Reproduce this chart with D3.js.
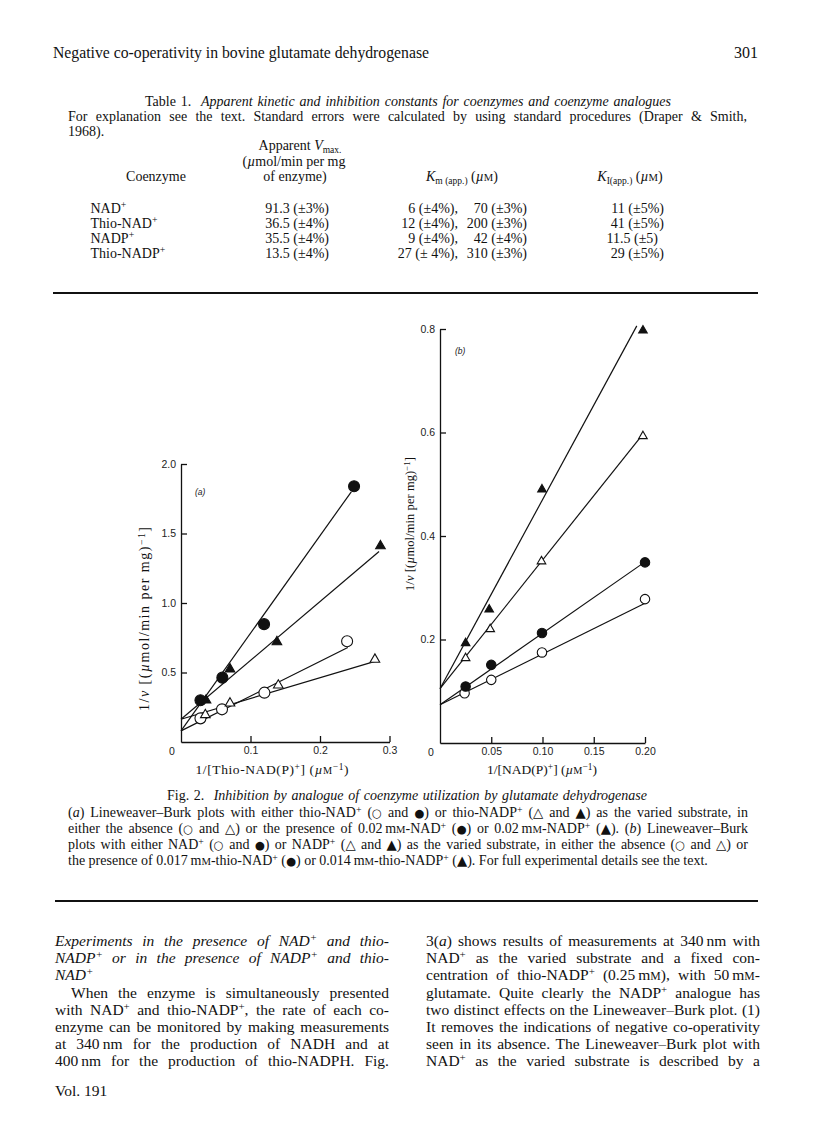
<!DOCTYPE html>
<html>
<head>
<meta charset="utf-8" />
<title>Fig. 2 - Inhibition by analogue of coenzyme utilization</title>
<style>
  body { margin: 0; background: #fff; }
  svg text { white-space: pre; }
</style>
</head>
<body>
<script src="https://cdn.jsdelivr.net/npm/d3@7"></script>
<script>
// ---------------- data: panel (a), x = 1/[Thio-NAD(P)+], y = 1/v ----------------
const aXTicks = [0.1, 0.2, 0.3];
const aYTicks = [0.5, 1.0, 1.5, 2.0];

const aOpenCircleX = [0.028, 0.059, 0.12, 0.239];
const aOpenCircleY = [0.17, 0.235, 0.355, 0.725];
const aFilledCircleX = [0.028, 0.0595, 0.1195, 0.249];
const aFilledCircleY = [0.30, 0.463, 0.848, 1.84];
const aOpenTriX = [0.035, 0.0705, 0.14, 0.279];
const aOpenTriY = [0.195, 0.279, 0.408, 0.594];
const aFilledTriX = [0.036, 0.0705, 0.138, 0.287];
const aFilledTriY = [0.30, 0.524, 0.72, 1.41];

// fitted lines [x0, y0, x1, y1]
const aOpenCircleLine = [0, 0.08, 0.24, 0.68];
const aFilledCircleLine = [0, 0.08, 0.245, 1.80];
const aOpenTriLine = [0, 0.164, 0.279, 0.58];
const aFilledTriLine = [0, 0.164, 0.285, 1.37];

// ---------------- data: panel (b), x = 1/[NAD(P)+], y = 1/v ----------------
const bXTicks = [0.05, 0.10, 0.15, 0.20];
const bYTicks = [0.2, 0.4, 0.6, 0.8];

const bFilledTriX = [0.025, 0.048, 0.0995, 0.198];
const bFilledTriY = [0.193, 0.258, 0.49, 0.797];
const bOpenTriX = [0.025, 0.049, 0.099, 0.198];
const bOpenTriY = [0.164, 0.22, 0.351, 0.593];
const bFilledCircleX = [0.025, 0.05, 0.0995, 0.2];
const bFilledCircleY = [0.109, 0.151, 0.2125, 0.349];
const bOpenCircleX = [0.024, 0.05, 0.0995, 0.2];
const bOpenCircleY = [0.096, 0.122, 0.175, 0.278];

const bFilledTriLine = [0, 0.105, 0.192, 0.806];
const bOpenTriLine = [0, 0.105, 0.198, 0.597];
const bFilledCircleLine = [0, 0.074, 0.2, 0.35];
const bOpenCircleLine = [0, 0.074, 0.2, 0.27];

// ---------------- table 1 ----------------
const tableNames = ["NAD^{+}", "Thio-NAD^{+}", "NADP^{+}", "Thio-NADP^{+}"];
const tableVmax = ["91.3 (±3%)", "36.5 (±4%)", "35.5 (±4%)", "13.5 (±4%)"];
const tableKm1 = ["6 (±4%),", "12 (±4%),", "9 (±4%),", "27 (± 4%),"];
const tableKm2 = ["70 (±3%)", "200 (±3%)", "42 (±4%)", "310 (±3%)"];
const tableKi = ["11 (±5%)", "41 (±5%)", "11.5 (±5)", "29 (±5%)"];

const SERIF = "'Liberation Serif', 'Times New Roman', serif";
const SANS = "'Liberation Sans', Arial, sans-serif";

const svg = d3.select("body").append("svg")
  .attr("width", 816).attr("height", 1136)
  .style("display", "block");

svg.append("rect").attr("width", 816).attr("height", 1136).attr("fill", "#fff");

// little markup: *italic*, ^{sup}, _{sub}, %M small capital M; symbols get DejaVu
function rich(sel, str, fs) {
  const parts = str.split(/(\^\{[^}]*\}|_\{[^}]*\}|\*|%M|[○●△▲])/).filter(s => s);
  let italic = false, shift = 0;
  parts.forEach(p => {
    if (p === "*") { italic = !italic; return; }
    let t = p, size = null, newShift = 0, fam = null;
    if (p.startsWith("^{")) { t = p.slice(2, -1); size = fs * 0.7; newShift = -0.32 * fs; }
    else if (p.startsWith("_{")) { t = p.slice(2, -1); size = fs * 0.68; newShift = 0.22 * fs; }
    else if (p === "%M") { t = "M"; size = fs * 0.76; }
    else if ("○●△▲".includes(p)) { fam = "'DejaVu Sans', sans-serif"; size = fs * (p === "●" || p === "○" ? 0.82 : 0.95); }
    const ts = sel.append("tspan").text(t);
    if (newShift - shift !== 0) ts.attr("dy", newShift - shift);
    shift = newShift;
    if (size) ts.attr("font-size", size);
    if (fam) ts.attr("font-family", fam);
    if (italic) ts.attr("font-style", "italic");
  });
  return sel;
}

// justify by widening word gaps, like the printed page
function line(str, x, y, opts = {}) {
  const fs = opts.size || 14;
  const t = svg.append("text")
    .attr("x", x).attr("y", y)
    .attr("font-family", opts.family || SERIF)
    .attr("font-size", fs)
    .attr("fill", "#111")
    .attr("text-anchor", opts.anchor || "start");
  rich(t, str, fs);
  if (opts.width) {
    const natural = t.node().getComputedTextLength();
    const gaps = (t.text().match(/ /g) || []).length;
    const extra = opts.width - natural;
    if (extra > 0 && gaps > 0) t.attr("word-spacing", extra / gaps);
    else t.attr("textLength", opts.width).attr("lengthAdjust", "spacingAndGlyphs");
  }
  return t;
}

//---------------- running head ----------------
line("Negative co-operativity in bovine glutamate dehydrogenase", 53, 58, { size: 16, width: 376 });
line("301", 758, 58, { size: 16, anchor: "end" });

//---------------- table ----------------
line("Table 1.  *Apparent kinetic and inhibition constants for coenzymes and coenzyme analogues*", 145, 106, { width: 526 });
line("For explanation see the text. Standard errors were calculated by using standard procedures (Draper & Smith,", 68, 121, { width: 679 });
line("1968).", 68, 136);
line("Apparent *V*_{max.}", 300, 150, { anchor: "middle" });
line("(*µ*mol/min per mg", 294, 166, { anchor: "middle" });
line("of enzyme)", 295, 181, { anchor: "middle" });
line("Coenzyme", 156, 181, { anchor: "middle" });
line("*K*_{m (app.)} (*µ*%M)", 462, 181, { anchor: "middle" });
line("*K*_{I(app.)} (*µ*%M)", 630, 181, { anchor: "middle" });

const rowY = d3.scalePoint().domain(d3.range(tableNames.length)).range([212.5, 257.5]);
tableNames.forEach((n, i) => {
  const y = rowY(i);
  line(n, 90.5, y);
  line(tableVmax[i], 329, y, { anchor: "end" });
  line(tableKm1[i], 458, y, { anchor: "end" });
  line(tableKm2[i], 527, y, { anchor: "end" });
  line(tableKi[i], i === 2 ? 658 : 664, y, { anchor: "end" });
});

svg.append("line").attr("x1", 53).attr("x2", 758).attr("y1", 293).attr("y2", 293)
  .attr("stroke", "#111").attr("stroke-width", 2);

//---------------- figure panels ----------------
function panel(cfg) {
  const x = d3.scaleLinear().domain(cfg.xDomain).range(cfg.xRange);
  const y = d3.scaleLinear().domain(cfg.yDomain).range(cfg.yRange);
  const g = svg.append("g");

  g.append("g")
    .attr("transform", `translate(0,${cfg.yRange[0]})`)
    .call(d3.axisBottom(x).tickValues(cfg.xTicks).tickFormat(d3.format(cfg.xFmt))
      .tickSizeInner(-6).tickSizeOuter(0).tickPadding(5))
    .call(a => a.selectAll("text").attr("font-family", SANS).attr("font-size", 10.5).attr("fill", "#222"))
    .call(a => a.selectAll("path,line").attr("stroke", "#111").attr("stroke-width", 1.3));

  g.append("g")
    .attr("transform", `translate(${cfg.xRange[0]},0)`)
    .call(d3.axisLeft(y).tickValues(cfg.yTicks).tickFormat(d3.format(cfg.yFmt))
      .tickSizeInner(-6).tickSizeOuter(0).tickPadding(5))
    .call(a => a.selectAll("text").attr("font-family", SANS).attr("font-size", 10.5).attr("fill", "#222"))
    .call(a => a.selectAll("path,line").attr("stroke", "#111").attr("stroke-width", 1.3));

  g.append("text").attr("x", x(0) - 9).attr("y", y(0) + 13)
    .attr("font-family", SANS).attr("font-size", 10.5).attr("fill", "#222")
    .attr("text-anchor", "middle").text("0");

  g.append("text").attr("x", cfg.tagPos[0]).attr("y", cfg.tagPos[1])
    .attr("font-family", SANS).attr("font-size", 8.5).attr("font-style", "italic")
    .attr("fill", "#222").text(cfg.tag);

  // fitted lines
  g.selectAll(".fit").data(cfg.series).join("line")
    .attr("x1", d => x(d.line[0])).attr("y1", d => y(d.line[1]))
    .attr("x2", d => x(d.line[2])).attr("y2", d => y(d.line[3]))
    .attr("stroke", "#111").attr("stroke-width", 1.2);

  // markers
  cfg.series.forEach(s => {
    const sym = d3.symbol()
      .type(s.shape === "circle" ? d3.symbolCircle : d3.symbolTriangle)
      .size(s.shape === "circle" ? cfg.circleSize : cfg.triSize);
    g.selectAll(null).data(d3.zip(s.x, s.y)).join("path")
      .attr("transform", d => `translate(${x(d[0])},${y(d[1])})`)
      .attr("d", sym)
      .attr("fill", s.filled ? "#111" : "#fff")
      .attr("stroke", "#111").attr("stroke-width", 1.1);
  });

  // axis titles
  const xt = g.append("text").attr("x", cfg.xTitlePos[0]).attr("y", cfg.xTitlePos[1])
    .attr("font-family", SERIF).attr("font-size", 13.5).attr("fill", "#111")
    .attr("text-anchor", "middle")
    .attr("textLength", cfg.xTitleLen).attr("lengthAdjust", "spacing");
  rich(xt, cfg.xTitle, 13.5);

  const yt = g.append("text")
    .attr("transform", `translate(${cfg.yTitlePos[0]},${cfg.yTitlePos[1]}) rotate(-90)`)
    .attr("font-family", SERIF).attr("font-size", cfg.yTitleSize).attr("fill", "#111")
    .attr("text-anchor", "middle")
    .attr("textLength", cfg.yTitleLen).attr("lengthAdjust", "spacing");
  rich(yt, "1/*v* [(*µ*mol/min per mg)^{−1}]", cfg.yTitleSize);
}

panel({
  xDomain: [0, 0.3], xRange: [181, 389.5],
  yDomain: [0, 2], yRange: [742, 464],
  xTicks: aXTicks, yTicks: aYTicks, xFmt: ".1f", yFmt: ".1f",
  circleSize: 95, triSize: 40,
  tag: "(a)", tagPos: [195, 495],
  xTitle: "1/[Thio-NAD(P)^{+}] (*µ*%M^{−1})", xTitlePos: [272, 774], xTitleLen: 153,
  yTitlePos: [149, 619], yTitleSize: 14, yTitleLen: 184,
  series: [
    { x: aOpenCircleX, y: aOpenCircleY, shape: "circle", filled: false, line: aOpenCircleLine },
    { x: aFilledCircleX, y: aFilledCircleY, shape: "circle", filled: true, line: aFilledCircleLine },
    { x: aOpenTriX, y: aOpenTriY, shape: "tri", filled: false, line: aOpenTriLine },
    { x: aFilledTriX, y: aFilledTriY, shape: "tri", filled: true, line: aFilledTriLine }
  ]
});

panel({
  xDomain: [0, 0.2], xRange: [440, 645],
  yDomain: [0, 0.8], yRange: [743, 329],
  xTicks: bXTicks, yTicks: bYTicks, xFmt: ".2f", yFmt: ".1f",
  circleSize: 70, triSize: 32,
  tag: "(b)", tagPos: [455, 354],
  xTitle: "1/[NAD(P)^{+}] (*µ*%M^{−1})", xTitlePos: [542, 774], xTitleLen: 110,
  yTitlePos: [414, 524], yTitleSize: 12.5, yTitleLen: 134,
  series: [
    { x: bOpenCircleX, y: bOpenCircleY, shape: "circle", filled: false, line: bOpenCircleLine },
    { x: bFilledCircleX, y: bFilledCircleY, shape: "circle", filled: true, line: bFilledCircleLine },
    { x: bOpenTriX, y: bOpenTriY, shape: "tri", filled: false, line: bOpenTriLine },
    { x: bFilledTriX, y: bFilledTriY, shape: "tri", filled: true, line: bFilledTriLine }
  ]
});

//---------------- caption ----------------
line("Fig. 2.  *Inhibition by analogue of coenzyme utilization by glutamate dehydrogenase*", 167, 800, { width: 480 });
const captionLines = [
  "(*a*) Lineweaver–Burk plots with either thio-NAD^{+} (○ and ●) or thio-NADP^{+} (△ and ▲) as the varied substrate, in",
  "either the absence (○ and △) or the presence of 0.02\u2009m%M-NAD^{+} (●) or 0.02\u2009m%M-NADP^{+} (▲). (*b*) Lineweaver–Burk",
  "plots with either NAD^{+} (○ and ●) or NADP^{+} (△ and ▲) as the varied substrate, in either the absence (○ and △) or",
  "the presence of 0.017\u2009m%M-thio-NAD^{+} (●) or 0.014\u2009m%M-thio-NADP^{+} (▲). For full experimental details see the text."
];
captionLines.forEach((s, i) => line(s, 68, 817 + i * 16, i < 3 ? { width: 680 } : {}));

svg.append("line").attr("x1", 55).attr("x2", 758).attr("y1", 901).attr("y2", 901)
  .attr("stroke", "#111").attr("stroke-width", 2);

//---------------- body text ----------------
const leftCol = [
  ["*Experiments in the presence of NAD^{+} and thio-*", 55, true],
  ["*NADP^{+} or in the presence of NADP^{+} and thio-*", 55, true],
  ["*NAD^{+}*", 55, false],
  ["When the enzyme is simultaneously presented", 71, true],
  ["with NAD^{+} and thio-NADP^{+}, the rate of each co-", 55, true],
  ["enzyme can be monitored by making measurements", 55, true],
  ["at 340\u2009nm for the production of NADH and at", 55, true],
  ["400\u2009nm for the production of thio-NADPH. Fig.", 55, true]
];
const rightCol = [
  "3(*a*) shows results of measurements at 340\u2009nm with",
  "NAD^{+} as the varied substrate and a fixed con-",
  "centration of thio-NADP^{+} (0.25\u2009m%M), with 50\u2009m%M-",
  "glutamate. Quite clearly the NADP^{+} analogue has",
  "two distinct effects on the Lineweaver–Burk plot. (1)",
  "It removes the indications of negative co-operativity",
  "seen in its absence. The Lineweaver–Burk plot with",
  "NAD^{+} as the varied substrate is described by a"
];
const bodyY = [946, 963, 980, 998, 1014.5, 1031.5, 1048.5, 1066];
leftCol.forEach((d, i) => line(d[0], d[1], bodyY[i], d[2] ? { size: 15.5, width: 389 - d[1] } : { size: 15.5 }));
rightCol.forEach((s, i) => line(s, 426, bodyY[i], { size: 15.5, width: 334 }));

line("Vol. 191", 55, 1096, { size: 15.5 });
</script>
</body>
</html>
